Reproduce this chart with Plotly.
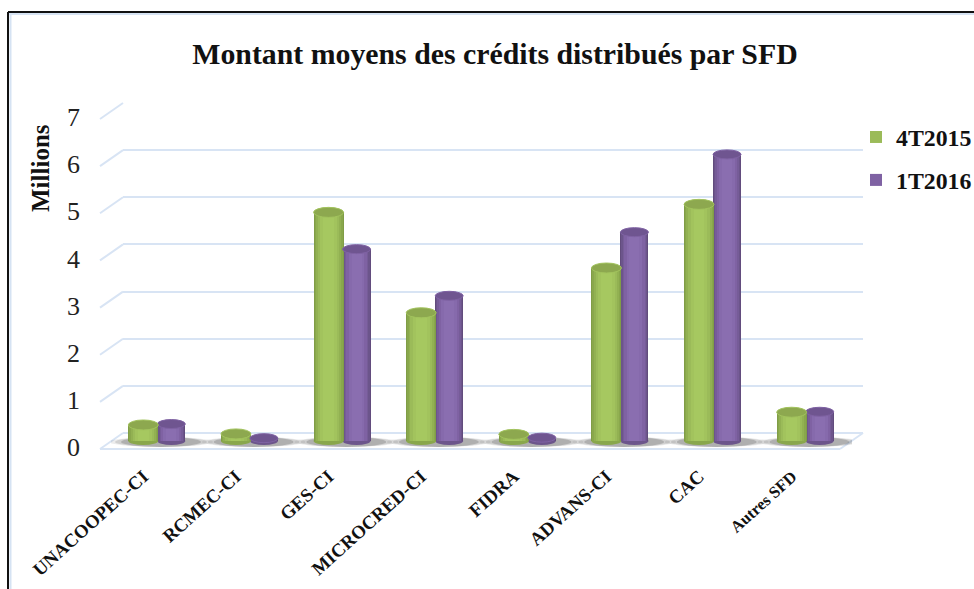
import plotly.graph_objects as go

categories = ["UNACOOPEC-CI", "RCMEC-CI", "GES-CI", "MICROCRED-CI", "FIDRA", "ADVANS-CI", "CAC", "Autres SFD"]
tick_labels = ["<b>%s</b>" % c for c in categories[:-1]] + ['<span style="font-size:16.5px"><b>Autres SFD</b></span>']
series_a = [0.34, 0.15, 4.85, 2.72, 0.14, 3.67, 5.02, 0.61]
series_b = [0.36, 0.06, 4.07, 3.08, 0.07, 4.43, 6.08, 0.62]
name_a = "<b>4T2015</b>"
name_b = "<b>1T2016</b>"
y_ticks = [0, 1, 2, 3, 4, 5, 6, 7]

W, H = 974, 589
FONT = "Liberation Serif"
px = lambda x: x / W
py = lambda y: 1 - y / H

# Axis geometry (pixel position of chart areas)
BAR_L, BAR_R = 111, 852
BAR_TOP, BAR_BOT = 60, 458
Y0_PX, UNIT = 441, 47.14
bar_range = [(Y0_PX - BAR_BOT) / UNIT, (Y0_PX - BAR_TOP) / UNIT]
CAT_PX = (BAR_R - BAR_L) / len(categories)

shades_a = ["#809D46", "#89A74C", "#92B152", "#9BBB59", "#A2C35D", "#A6C860"]
shades_b = ["#624C7D", "#6C558B", "#765C98", "#7F62A3", "#866AAC", "#8A6EB0"]
fractions = [1.0, 0.93, 0.84, 0.72, 0.56, 0.36]
W_A, W_B = 30 / CAT_PX, 28 / CAT_PX
C_A, C_B = -14 / CAT_PX, 14 / CAT_PX

fig = go.Figure()

# Hidden helpers so the grid and tick-label axes are built
fig.add_trace(go.Scatter(x=[0], y=[0], xaxis="x", yaxis="y", mode="markers",
                         marker=dict(opacity=0), showlegend=False, hoverinfo="skip"))
fig.add_trace(go.Scatter(x=[0], y=[0], xaxis="x", yaxis="y3", mode="markers",
                         marker=dict(opacity=0), showlegend=False, hoverinfo="skip"))

for name, vals, shades, centre, width, grp in [
    (name_b, series_b, shades_b, C_B, W_B, "b"),
    (name_a, series_a, shades_a, C_A, W_A, "a"),
]:
    for i, (col, frac) in enumerate(zip(shades, fractions)):
        w = width * frac
        fig.add_trace(go.Bar(
            x=categories, y=vals, name=name, width=w, offset=centre - w / 2,
            xaxis="x2", yaxis="y2",
            marker=dict(color=col, line=dict(width=0)),
            legendgroup=grp, showlegend=i == 3,
            legendrank=1 if grp == "a" else 2,
        ))

shapes = []
def ellipse(xc, half_w_px, val, ry_px, fill, layer, line=None, opacity=1):
    shapes.append(dict(type="circle", xref="x2", yref="y2", layer=layer,
                       x0=xc - half_w_px / CAT_PX, x1=xc + half_w_px / CAT_PX,
                       y0=val - ry_px / UNIT, y1=val + ry_px / UNIT,
                       fillcolor=fill, opacity=opacity,
                       line=dict(width=1 if line else 0, color=line or fill)))

# Floor shadows and bar bottoms
for i in range(len(categories)):
    for hw, a in [(52, 0.10), (46, 0.16), (40, 0.24)]:
        ellipse(i + 0.04, hw, -0.02, 5, "#444444", "below", opacity=a)
    ellipse(i + C_B, 14, 0, 4, shades_b[1], "below")
    ellipse(i + C_A, 15, 0, 4, shades_a[1], "below")

# Cylinder tops
for i in range(len(categories)):
    ellipse(i + C_B, 14, series_b[i], 4.5, "#6F5590", "above", line="#7F62A3")
    ellipse(i + C_A, 15, series_a[i], 5, "#8DA84F", "above", line="#A2C35D")

# Frame
for x0, y0, x1, y1, col, w in [
    (8, 12, 974, 12, "#111111", 2), (8, 12, 8, 589, "#111111", 2),
    (10.5, 14, 10.5, 589, "#D6E3F3", 2), (9, 14, 974, 14, "#D6E3F3", 2),
]:
    shapes.append(dict(type="line", xref="paper", yref="paper", layer="above",
                       x0=px(x0), x1=px(x1), y0=py(y0), y1=py(y1),
                       line=dict(color=col, width=w)))

# Side wall connectors and floor edges
GRID_COL = "#D8E4F4"
for v in y_ticks:
    top = 433 - v * 330 / 7
    shapes.append(dict(type="line", xref="paper", yref="paper", layer="below",
                       x0=px(123), x1=px(100), y0=py(top), y1=py(top + 16),
                       line=dict(color=GRID_COL, width=2)))
for x0, y0, x1, y1 in [(100, 449, 840, 449), (840, 449, 863, 433)]:
    shapes.append(dict(type="line", xref="paper", yref="paper", layer="below",
                       x0=px(x0), x1=px(x1), y0=py(y0), y1=py(y1),
                       line=dict(color=GRID_COL, width=2)))

fig.update_layout(
    width=W, height=H, margin=dict(l=0, r=0, t=0, b=0, pad=0, autoexpand=False),
    paper_bgcolor="white", plot_bgcolor="rgba(0,0,0,0)",
    barmode="overlay", bargap=0,
    font=dict(family=FONT, color="#111111"),
    title=dict(text="<b>Montant moyens des crédits distribués par SFD</b>",
               x=px(495), y=py(54), xanchor="center", yanchor="middle",
               font=dict(family=FONT, size=29.8, color="#111111")),
    xaxis2=dict(domain=[px(BAR_L), px(BAR_R)], type="category", categoryorder="array",
                categoryarray=categories, tickmode="array", tickvals=categories,
                range=[-0.5, len(categories) - 0.5],
                ticktext=tick_labels, tickangle=-42, ticks="", showgrid=False,
                showline=False, zeroline=False, anchor="y2",
                ticklabelshift=-14, ticklabelstandoff=3,
                tickfont=dict(family=FONT, size=18.7, color="#111111")),
    yaxis2=dict(domain=[py(BAR_BOT), py(BAR_TOP)], range=bar_range, showgrid=False, anchor="x2",
                showticklabels=False, zeroline=False, showline=False, ticks=""),
    xaxis=dict(domain=[px(123), px(863)], range=[0, 1], visible=False, anchor="y"),
    yaxis=dict(domain=[py(433), py(103)], range=[0, 7], anchor="x",
               tickvals=y_ticks, showgrid=True, gridcolor=GRID_COL, gridwidth=2,
               zeroline=True, zerolinecolor=GRID_COL, zerolinewidth=2,
               showticklabels=False, ticks="", showline=False),
    yaxis3=dict(domain=[py(447), py(117)], range=[0, 7], anchor="free",
                position=px(80), side="left", tickvals=y_ticks, showgrid=False,
                zeroline=False, showline=False, ticks="", ticklen=0,
                tickfont=dict(family=FONT, size=26, color="#222222")),
    legend=dict(x=px(856), y=py(115), xanchor="left", yanchor="top",
                bgcolor="rgba(0,0,0,0)", tracegroupgap=9, traceorder="grouped",
                font=dict(family=FONT, size=23.8, color="#111111"),
                itemclick=False, itemdoubleclick=False),
    annotations=[dict(text="<b>Millions</b>", xref="paper", yref="paper",
                      x=px(40), y=py(168), textangle=-90, showarrow=False,
                      xanchor="center", yanchor="middle",
                      font=dict(family=FONT, size=25, color="#111111"))],
    shapes=shapes,
)
fig.update_traces(hoverinfo="skip")
fig.write_html("out.html", config={"displayModeBar": False},
               post_script="document.body.style.margin='0';")
